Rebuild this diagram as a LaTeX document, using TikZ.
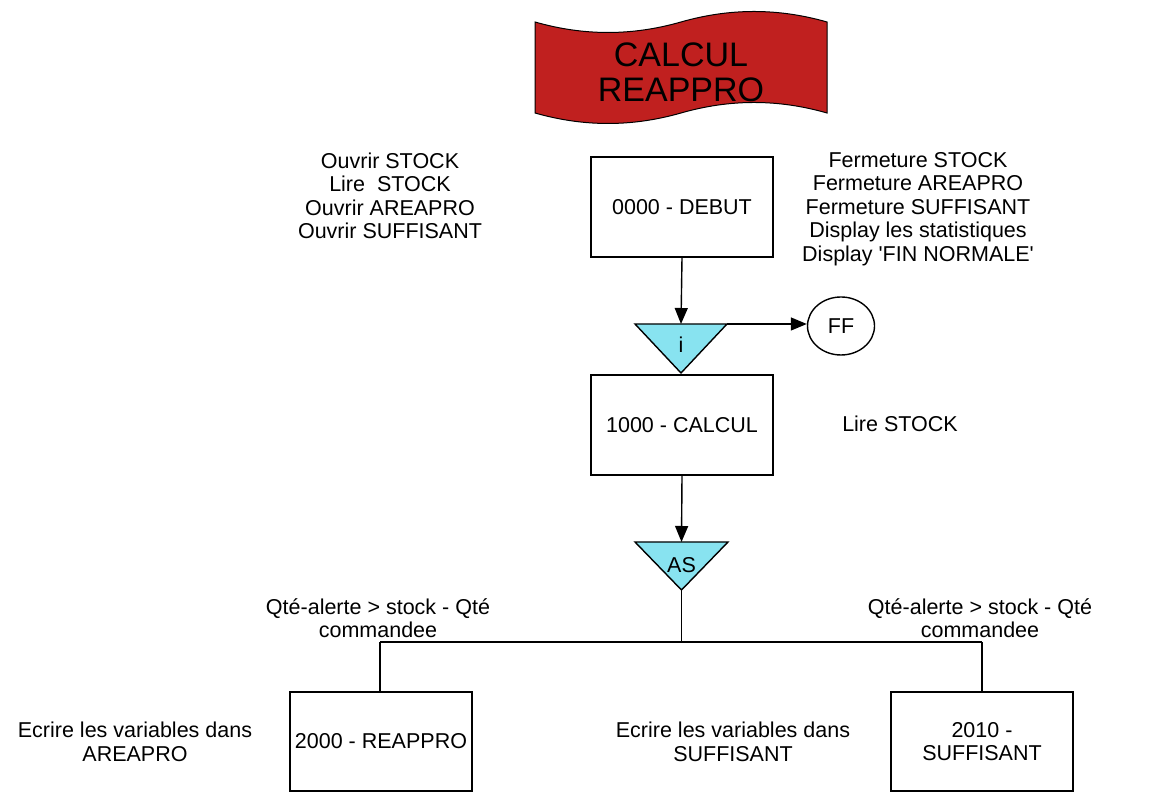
\documentclass[tikz,border=0pt]{standalone}
\usepackage{fontspec}
\setmainfont{Liberation Sans}
\usetikzlibrary{arrows.meta,shapes.geometric}
\definecolor{bannerred}{HTML}{C0201F}
\definecolor{trifill}{HTML}{88E3F0}
\begin{document}
\begin{tikzpicture}[x=1pt,y=1pt,
  lbl/.style={font=\fontsize{21.5}{23.5}\selectfont, align=center, inner sep=0pt},
  procbox/.style={draw, line width=1.4pt, minimum width=182pt, minimum height=100pt, inner sep=0pt, font=\fontsize{21.5}{23.5}\selectfont, align=center},
  conn/.style={line width=1.4pt},
  arr/.style={conn, -{Triangle[length=16pt,width=13pt]}},
  tri/.style={conn, fill=trifill, line join=miter},
]
\useasboundingbox (0,0) rectangle (1169,799);

% banner
\draw[line width=1pt, fill=bannerred]
  (535,777) .. controls (584,763) and (632,763) .. (681,777)
  .. controls (730,791) and (778,791) .. (827,777)
  -- (827,686) .. controls (778,700) and (730,700) .. (681,686)
  .. controls (632,672) and (584,672) .. (535,686) -- cycle;
\node[font=\fontsize{34}{35}\selectfont, align=center, inner sep=0pt] (title) at (681,726.5) {CALCUL\\REAPPRO};

% boxes
\node[procbox] (debut) at (682,592) {0000 - DEBUT};
\node[procbox] (calcul) at (682,374) {1000 - CALCUL};
\node[procbox, minimum height=99pt] (reappro) at (381,57.5) {2000 - REAPPRO};
\node[procbox, minimum height=99pt] (suff) at (982,57.5) {2010 -\\SUFFISANT};

% triangle i
\coordinate (iTL) at (635,475);
\coordinate (iTR) at (727,475);
\coordinate (iA) at (681,426);
\coordinate (iT) at (681,475);
\draw[tri] (iTL) -- (iTR) -- (iA) -- cycle;
\node[lbl] (ilabel) at (681,454) {i};

% triangle AS
\coordinate (asTL) at (635,257);
\coordinate (asTR) at (728,257);
\coordinate (asA) at (681.5,209);
\coordinate (asT) at (681.5,257);
\draw[tri] (asTL) -- (asTR) -- (asA) -- cycle;
\node[lbl] (aslabel) at (681.5,234) {AS};

% FF
\node[draw, ellipse, line width=1.4pt, minimum width=67pt, minimum height=58pt, inner sep=0pt, font=\fontsize{21.5}{23.5}\selectfont] (ff) at (841,473) {FF};

% connectors
\draw[arr] (debut.south) -- (iT);
\draw[arr] (iTR) -- (iTR -| ff.west);
\draw[arr] (calcul.south) -- (asT);
\coordinate (bus) at (681.5,157);
\coordinate (busL) at (380,157);
\coordinate (busR) at (982,157);
\draw[conn] (asA) -- (bus);
\draw[conn] (busL) -- (busR);
\draw[conn] (busL) -- (busL |- reappro.north);
\draw[conn] (busR) -- (busR |- suff.north);

% texts
\node[lbl] (opentxt) at (390,603) {Ouvrir STOCK\\Lire~ STOCK\\Ouvrir AREAPRO\\Ouvrir SUFFISANT};
\node[lbl] (closetxt) at (918,590) {Fermeture STOCK\\Fermeture AREAPRO\\Fermeture SUFFISANT\\Display les statistiques\\Display \textquotesingle FIN NORMALE\textquotesingle};
\node[lbl] (liretxt) at (900,375) {Lire STOCK};
\node[lbl] (condL) at (378,181) {Qté-alerte > stock - Qté\\commandee};
\node[lbl] (condR) at (980,181) {Qté-alerte > stock - Qté\\commandee};
\node[lbl] (ecrL) at (135,57) {Ecrire les variables dans\\AREAPRO};
\node[lbl] (ecrR) at (733,57) {Ecrire les variables dans\\SUFFISANT};
\end{tikzpicture}
\end{document}
